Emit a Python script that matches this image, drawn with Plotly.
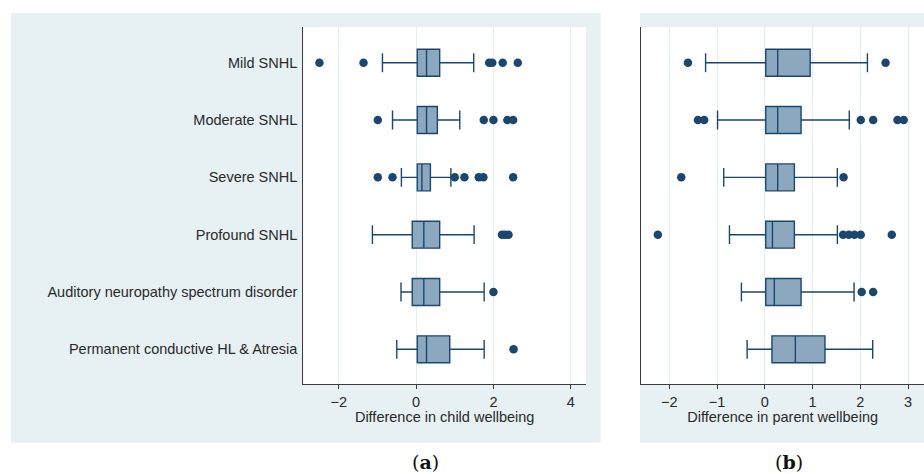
import plotly.graph_objects as go

categories = [
    "Mild SNHL",
    "Moderate SNHL",
    "Severe SNHL",
    "Profound SNHL",
    "Auditory neuropathy spectrum disorder",
    "Permanent conductive HL & Atresia",
]

# Panel (a): difference in child wellbeing
child_lower = [-0.87, -0.61, -0.38, -1.13, -0.39, -0.50]
child_q1 = [0.03, 0.03, 0.03, -0.10, -0.10, 0.03]
child_median = [0.27, 0.27, 0.15, 0.20, 0.20, 0.27]
child_q3 = [0.61, 0.55, 0.37, 0.61, 0.61, 0.87]
child_upper = [1.49, 1.13, 0.90, 1.50, 1.76, 1.76]
child_outliers = [
    [-2.50, -1.36, 1.89, 1.97, 2.24, 2.63],
    [-0.99, 1.75, 2.00, 2.36, 2.51],
    [-0.99, -0.61, 1.00, 1.25, 1.62, 1.74, 2.51],
    [2.22, 2.30, 2.39],
    [2.00],
    [2.52],
]

# Panel (b): difference in parent wellbeing
parent_lower = [-1.24, -0.99, -0.86, -0.74, -0.49, -0.37]
parent_q1 = [0.02, 0.02, 0.02, 0.02, 0.02, 0.15]
parent_median = [0.27, 0.27, 0.27, 0.16, 0.20, 0.64]
parent_q3 = [0.95, 0.76, 0.62, 0.62, 0.76, 1.26]
parent_upper = [2.15, 1.77, 1.52, 1.52, 1.87, 2.26]
parent_outliers = [
    [-1.61, 2.53],
    [-1.40, -1.27, 2.01, 2.27, 2.78, 2.91],
    [-1.75, 1.65],
    [-2.24, 1.64, 1.76, 1.88, 2.01, 2.66],
    [2.03, 2.27],
    [],
]

child_ticks = [-2, 0, 2, 4]
parent_ticks = [-2, -1, 0, 1, 2, 3]

W, H = 924, 474
NAVY = "#1a476f"
FILL = "#8ba8bf"
PANEL_BG = "#e7f0f3"
GRID = "#e2eef1"
AXIS = "#3c3c3c"
FONT = "Liberation Sans, Arial, sans-serif"


def px_x(p):
    return p / W


def px_y(p):
    return 1 - p / H


fig = go.Figure()


def add_panel(lower, q1, med, q3, upper, outliers, xa, ya):
    fig.add_trace(go.Box(
        y=categories, q1=q1, median=med, q3=q3,
        lowerfence=lower, upperfence=upper,
        orientation="h", width=0.47, whiskerwidth=0.7,
        fillcolor=FILL, line=dict(color=NAVY, width=1.4),
        boxpoints=False, showlegend=False, hoverinfo="skip",
        xaxis=xa, yaxis=ya,
    ))
    ox, oy = [], []
    for c, vals in zip(categories, outliers):
        for v in vals:
            ox.append(v)
            oy.append(c)
    fig.add_trace(go.Scatter(
        x=ox, y=oy, mode="markers",
        marker=dict(color=NAVY, size=8.5, line=dict(width=0)),
        showlegend=False, hoverinfo="skip",
        xaxis=xa, yaxis=ya,
    ))


add_panel(child_lower, child_q1, child_median, child_q3, child_upper,
          child_outliers, "x", "y")
add_panel(parent_lower, parent_q1, parent_median, parent_q3, parent_upper,
          parent_outliers, "x2", "y2")

# panel backgrounds
for x0, x1 in [(11, 600.7), (640, 924)]:
    fig.add_shape(type="rect", xref="paper", yref="paper",
                  x0=px_x(x0), x1=px_x(x1), y0=px_y(442.7), y1=px_y(13),
                  fillcolor=PANEL_BG, line=dict(width=0), layer="below")
# white plot areas
for x0, x1 in [(303.3, 586), (641.3, 924)]:
    fig.add_shape(type="rect", xref="paper", yref="paper",
                  x0=px_x(x0), x1=px_x(x1), y0=px_y(384), y1=px_y(27.3),
                  fillcolor="white", line=dict(width=0), layer="below")

ydom = [px_y(384), px_y(27.3)]
yrange = [5.605, -0.618]

axis_common = dict(
    showline=True, linecolor=AXIS, linewidth=1.2,
    ticks="outside", ticklen=4, tickcolor=AXIS, tickwidth=1.1,
    showgrid=True, gridcolor=GRID, gridwidth=1,
    zeroline=False, automargin=False,
    tickfont=dict(family=FONT, size=14.5, color="#2a2a2a"),
)

fig.update_layout(
    width=W, height=H,
    margin=dict(l=0, r=0, t=0, b=0),
    paper_bgcolor="white", plot_bgcolor="rgba(0,0,0,0)",
    font=dict(family=FONT, color="#2a2a2a"),
    xaxis=dict(
        domain=[px_x(303.3), px_x(586)], range=[-2.917, 4.394],
        tickvals=child_ticks, ticktext=["\u22122", "0", "2", "4"],
        title=dict(text="Difference in child wellbeing", standoff=2,
                   font=dict(family=FONT, size=14.5, color="#2a2a2a")),
        anchor="y", **axis_common,
    ),
    yaxis=dict(
        domain=ydom, range=yrange, type="category",
        categoryorder="array", categoryarray=categories,
        showline=True, linecolor=AXIS, linewidth=1.2,
        ticks="", showgrid=False, zeroline=False, automargin=False,
        ticklabelstandoff=2,
        tickfont=dict(family=FONT, size=14.5, color="#2a2a2a"),
        anchor="x",
    ),
    xaxis2=dict(
        domain=[px_x(641.3), 1.0], range=[-2.587, 3.335],
        tickvals=parent_ticks,
        ticktext=["\u22122", "\u22121", "0", "1", "2", "3"],
        title=dict(text="Difference in parent wellbeing", standoff=2,
                   font=dict(family=FONT, size=14.5, color="#2a2a2a")),
        anchor="y2", **axis_common,
    ),
    yaxis2=dict(
        domain=ydom, range=yrange, type="category",
        categoryorder="array", categoryarray=categories,
        showline=True, linecolor=AXIS, linewidth=1.2,
        ticks="", showticklabels=False, showgrid=False, zeroline=False,
        automargin=False, anchor="x2",
    ),
    annotations=[
        dict(text="(<b>a</b>)", x=px_x(425), y=px_y(462), xref="paper",
             yref="paper", showarrow=False, xanchor="center", yanchor="middle",
             borderpad=0,
             font=dict(family="DejaVu Serif, serif", size=19, color="#111")),
        dict(text="(<b>b</b>)", x=px_x(789), y=px_y(462), xref="paper",
             yref="paper", showarrow=False, xanchor="center", yanchor="middle",
             borderpad=0,
             font=dict(family="DejaVu Serif, serif", size=19, color="#111")),
    ],
)

fig.write_html(
    "out.html",
    config={"displayModeBar": False},
    post_script="document.body.style.margin='0';document.body.style.overflow='hidden';",
)
